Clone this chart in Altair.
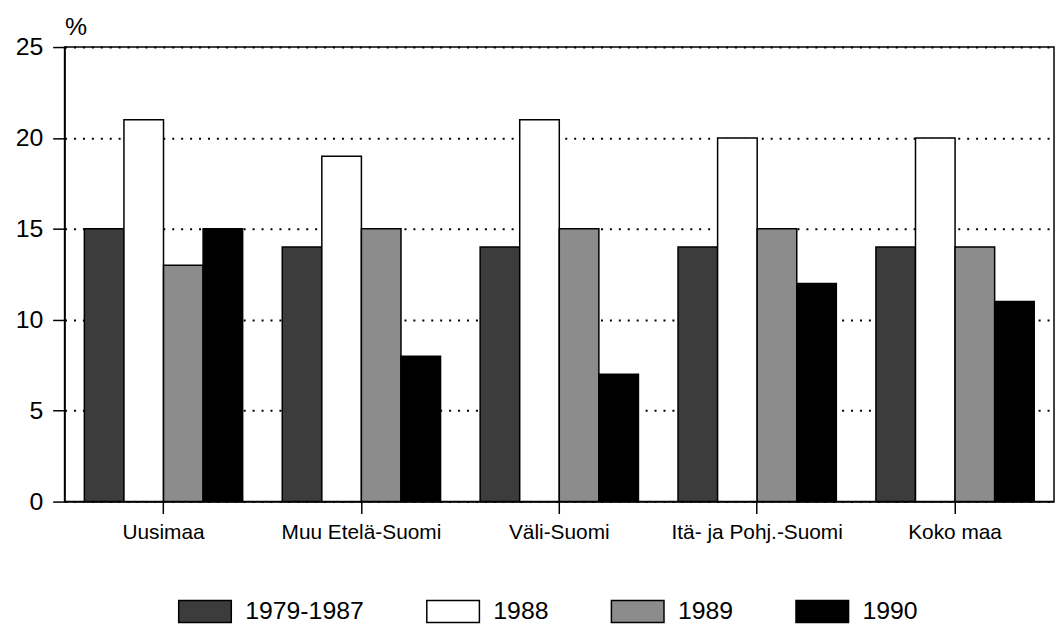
import altair as alt
import pandas as pd

regions = ["Uusimaa", "Muu Etelä-Suomi", "Väli-Suomi", "Itä- ja Pohj.-Suomi", "Koko maa"]
series = ["1979-1987", "1988", "1989", "1990"]
v_1979_1987 = [15, 14, 14, 14, 14]
v_1988 = [21, 19, 21, 20, 20]
v_1989 = [13, 15, 15, 15, 14]
v_1990 = [15, 8, 7, 12, 11]
y_ticks = [0, 5, 10, 15, 20, 25]
colors = ["#3c3c3c", "#ffffff", "#8c8c8c", "#000000"]

rows = []
for s, vals in zip(series, [v_1979_1987, v_1988, v_1989, v_1990]):
    for r, v in zip(regions, vals):
        rows.append({"region": r, "series": s, "value": v})
df = pd.DataFrame(rows)

FONT = "Liberation Sans"

chart = alt.Chart(df).mark_bar(stroke="black", strokeWidth=1.5).encode(
    x=alt.X(
        "region:N", sort=regions,
        scale=alt.Scale(paddingInner=0.2, paddingOuter=0.1),
        axis=alt.Axis(title=None, labelAngle=0, labelFontSize=21, tickSize=12,
                      labelPadding=8, grid=False),
    ),
    xOffset=alt.XOffset("series:N", sort=series,
                        scale=alt.Scale(paddingInner=0, paddingOuter=0)),
    y=alt.Y(
        "value:Q", scale=alt.Scale(domain=[0, 25], nice=False),
        axis=alt.Axis(values=y_ticks, title="%", titleAngle=0, titleX=0, titleY=-13,
                      titleAlign="left", titleBaseline="alphabetic", titleFontSize=25,
                      titleFontWeight="normal", labelFontSize=25, tickSize=12,
                      labelPadding=10, grid=True, gridDash=[2, 7], gridWidth=2,
                      gridColor="black"),
    ),
    color=alt.Color(
        "series:N", sort=series,
        scale=alt.Scale(domain=series, range=colors),
        legend=alt.Legend(title=None, orient="none", legendX=114, legendY=541,
                          direction="horizontal", symbolType="M-1,-0.42H1V0.42H-1Z",
                          symbolSize=2809, symbolStrokeColor="black",
                          symbolStrokeWidth=1.5, symbolOpacity=1, labelFontSize=25,
                          labelOffset=13, columnPadding=60, padding=0),
    ),
).properties(
    width=997, height=458,
    autosize=alt.AutoSizeParams(type="none"),
    padding={"left": 57, "top": 37, "right": 2, "bottom": 121},
).configure(font=FONT).configure_axis(
    labelColor="black", tickColor="black", domainColor="black",
    domainWidth=1.5, tickWidth=1.5, titleColor="black", labelFont=FONT, titleFont=FONT,
).configure_legend(labelColor="black", labelFont=FONT).configure_view(
    stroke="black", strokeWidth=1.5
)

chart.save("out.html", embed_options={"renderer": "svg", "actions": False})
